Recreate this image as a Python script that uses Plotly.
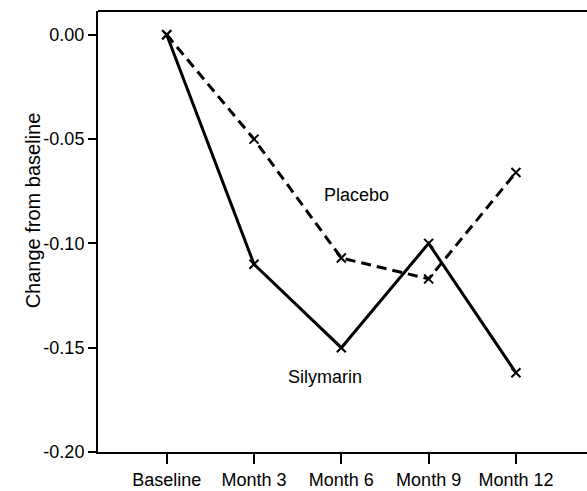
import plotly.graph_objects as go

categories = ["Baseline", "Month 3", "Month 6", "Month 9", "Month 12"]
silymarin = [0.0, -0.110, -0.150, -0.100, -0.162]
placebo = [0.0, -0.050, -0.107, -0.117, -0.066]
y_ticks = [0.0, -0.05, -0.10, -0.15, -0.20]
y_tick_labels = ["0.00", "-0.05", "-0.10", "-0.15", "-0.20"]

xpos = list(range(len(categories)))
FONT = "Liberation Sans, Arial, Helvetica, sans-serif"

fig = go.Figure()
fig.add_trace(go.Scatter(
    x=xpos, y=placebo, mode="lines+markers", name="Placebo",
    line=dict(color="black", width=3, dash="10px,6px"),
    marker=dict(symbol="x-thin-open", size=9, color="black",
                line=dict(width=2, color="black")),
))
fig.add_trace(go.Scatter(
    x=xpos, y=silymarin, mode="lines+markers", name="Silymarin",
    line=dict(color="black", width=3),
    marker=dict(symbol="x-thin-open", size=9, color="black",
                line=dict(width=2, color="black")),
))

fig.add_annotation(x=2.17, y=-0.077, text="Placebo", showarrow=False,
                   font=dict(family=FONT, size=18, color="black"))
fig.add_annotation(x=1.81, y=-0.164, text="Silymarin", showarrow=False,
                   font=dict(family=FONT, size=18, color="black"))
fig.add_annotation(xref="paper", yref="paper", x=-0.1595, y=0.548,
                   text="Change from baseline", textangle=-90, showarrow=False,
                   font=dict(family=FONT, size=20, color="black"))

# top frame line of the plot box
fig.add_shape(type="line", xref="paper", yref="paper", x0=0, x1=1, y0=1, y1=1,
              line=dict(color="black", width=2))

fig.update_layout(
    width=587, height=491,
    margin=dict(l=98, r=0, t=11, b=39),
    paper_bgcolor="white", plot_bgcolor="white",
    showlegend=False,
    font=dict(family=FONT, size=18, color="black"),
    xaxis=dict(
        range=[-0.787, 4.814],
        tickmode="array", tickvals=xpos, ticktext=categories,
        showgrid=False, zeroline=False,
        showline=True, linecolor="black", linewidth=2, mirror=False,
        ticks="outside", ticklen=10, tickwidth=2, tickcolor="black",
        tickfont=dict(family=FONT, size=18, color="black"),
    ),
    yaxis=dict(
        range=[-0.2, 0.0114],
        tickmode="array", tickvals=y_ticks, ticktext=y_tick_labels,
        showgrid=False, zeroline=False,
        showline=True, linecolor="black", linewidth=2, mirror=False,
        ticks="outside", ticklen=8, tickwidth=2, tickcolor="black",
        tickfont=dict(family=FONT, size=18, color="black"),
    ),
)

fig.write_html(
    "out.html",
    config={"displayModeBar": False},
    post_script=(
        "document.documentElement.style.margin='0';"
        "document.documentElement.style.overflow='hidden';"
        "document.body.style.margin='0';"
        "document.body.style.overflow='hidden';"
    ),
)
